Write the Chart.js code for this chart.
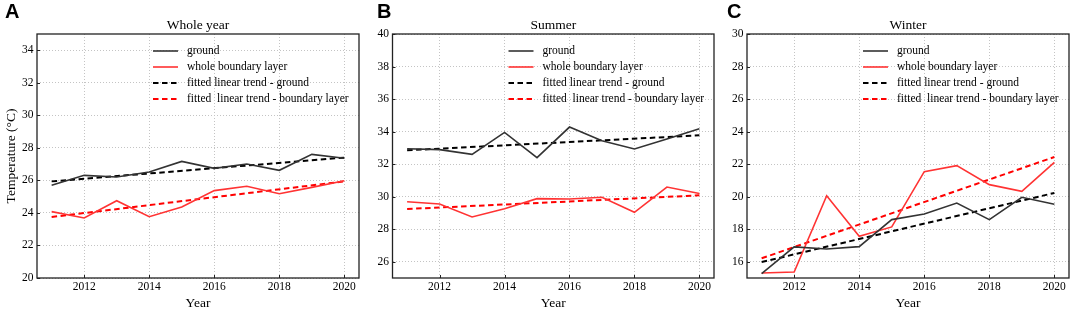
<!DOCTYPE html>
<html>
<head>
<meta charset="utf-8">
<script src="https://cdn.jsdelivr.net/npm/chart.js@4.4.0/dist/chart.umd.min.js"></script>
<style>
  body { margin: 0; background: #fff; width: 1072px; height: 309px; position: relative; overflow: hidden; }
  .panel { position: absolute; top: 0; height: 309px; }
  .tag { position: absolute; top: 0px; line-height: 20px; font: bold 20px "Liberation Sans", Arial, sans-serif; color: #000; }
</style>
</head>
<body>
<div class="panel" style="left:0;width:362px"><canvas id="chartA"></canvas></div>
<div class="panel" style="left:355px;width:362px"><canvas id="chartB"></canvas></div>
<div class="panel" style="left:712px;width:360px"><canvas id="chartC"></canvas></div>
<div class="tag" style="left:5px">A</div>
<div class="tag" style="left:377px">B</div>
<div class="tag" style="left:727px">C</div>
<script>
// data
const years = [2011, 2012, 2013, 2014, 2015, 2016, 2017, 2018, 2019, 2020];
const trendYears = [2011, 2020];
const xTicks = [2012, 2014, 2016, 2018, 2020];

// Whole year
const wholeGround = [25.70, 26.31, 26.21, 26.52, 27.17, 26.74, 27.01, 26.62, 27.60, 27.36];
const wholeBoundary = [24.08, 23.69, 24.75, 23.77, 24.36, 25.37, 25.64, 25.18, 25.57, 25.98];
const wholeTrendGround = [25.94, 27.40];
const wholeTrendBoundary = [23.75, 25.94];
const wholeTicks = [20, 22, 24, 26, 28, 30, 32, 34];

// Summer
const summerGround = [32.95, 32.89, 32.60, 33.95, 32.40, 34.28, 33.44, 32.93, 33.55, 34.18];
const summerBoundary = [29.69, 29.55, 28.75, 29.26, 29.88, 29.86, 29.96, 29.04, 30.59, 30.20];
const summerTrendGround = [32.85, 33.77];
const summerTrendBoundary = [29.24, 30.08];
const summerTicks = [26, 28, 30, 32, 34, 36, 38, 40];

// Winter
const winterGround = [15.27, 16.91, 16.78, 16.93, 18.59, 18.93, 19.61, 18.59, 19.96, 19.53];
const winterBoundary = [15.31, 15.37, 20.06, 17.56, 18.14, 21.54, 21.91, 20.74, 20.33, 22.11];
const winterTrendGround = [15.98, 20.23];
const winterTrendBoundary = [16.21, 22.44];
const winterTicks = [16, 18, 20, 22, 24, 26, 28, 30];

const labels = ['ground', 'whole boundary layer', 'fitted linear trend - ground', 'fitted  linear trend - boundary layer'];

const serif = '"Liberation Serif", "Times New Roman", serif';

function pts(xs, ys) {
  return xs.map((x, i) => ({ x: x, y: ys[i] }));
}

// legend drawn inside the plot area, plus the box frame and inward ticks
const framePlugin = {
  id: 'frame',
  afterDatasetsDraw(chart) {
    const { ctx, chartArea: a, scales } = chart;
    ctx.save();
    ctx.strokeStyle = '#222';
    ctx.lineWidth = 1.3;
    ctx.setLineDash([]);
    ctx.strokeRect(a.left, a.top, a.right - a.left, a.bottom - a.top);
    ctx.lineWidth = 1;
    scales.y.ticks.forEach(t => {
      const py = Math.round(scales.y.getPixelForValue(t.value)) + 0.5;
      ctx.beginPath(); ctx.moveTo(a.left, py); ctx.lineTo(a.left + 3, py); ctx.stroke();
    });
    scales.x.ticks.forEach(t => {
      const px = Math.round(scales.x.getPixelForValue(t.value)) + 0.5;
      ctx.beginPath(); ctx.moveTo(px, a.bottom); ctx.lineTo(px, a.bottom - 3); ctx.stroke();
    });
    // legend
    ctx.font = '11.5px ' + serif;
    ctx.textBaseline = 'middle';
    ctx.textAlign = 'left';
    chart.data.datasets.forEach((ds, i) => {
      const y = a.top + 17 + i * 16;
      ctx.strokeStyle = ds.borderColor;
      ctx.lineWidth = ds.borderWidth;
      ctx.setLineDash(ds.borderDash || []);
      ctx.beginPath(); ctx.moveTo(a.left + 116, y); ctx.lineTo(a.left + 141, y); ctx.stroke();
      ctx.setLineDash([]);
      ctx.fillStyle = '#000';
      ctx.fillText(ds.label, a.left + 150, y);
    });
    ctx.restore();
  }
};

function makeChart(id, title, ground, boundary, trendG, trendB, yTicks, yMin, yMax, yWidth, yTitle) {
  new Chart(document.getElementById(id), {
    type: 'line',
    data: {
      datasets: [
        { label: labels[0], data: pts(years, ground), borderColor: '#333333', borderWidth: 1.6 },
        { label: labels[1], data: pts(years, boundary), borderColor: '#ff3333', borderWidth: 1.6 },
        { label: labels[2], data: pts(trendYears, trendG), borderColor: '#000000', borderWidth: 2, borderDash: [5.5, 3.5] },
        { label: labels[3], data: pts(trendYears, trendB), borderColor: '#ff0000', borderWidth: 2, borderDash: [5.5, 3.5] }
      ]
    },
    options: {
      responsive: true,
      maintainAspectRatio: false,
      animation: false,
      layout: { padding: { left: 0, right: 3, top: 0, bottom: 0 } },
      elements: { point: { radius: 0 }, line: { tension: 0, fill: false } },
      plugins: { legend: { display: false }, tooltip: { enabled: false } },
      scales: {
        x: {
          type: 'linear',
          min: 2010.55,
          max: 2020.45,
          afterBuildTicks: s => { s.ticks = xTicks.map(v => ({ value: v })); },
          afterFit: s => { s.height = 31; },
          grid: { color: '#c4c4c4', lineWidth: 1, drawTicks: false },
          border: { display: false, dash: [1, 2] },
          ticks: { padding: 2, color: '#000', font: { family: serif, size: 11.5 }, maxRotation: 0, callback: v => String(v) },
          title: { display: true, text: 'Year', color: '#000', font: { family: serif, size: 13.5, lineHeight: 1 }, padding: { top: 0, bottom: -1 } }
        },
        xTop: {
          type: 'linear',
          position: 'top',
          display: true,
          min: 0, max: 1,
          afterFit: s => { s.height = 34; },
          grid: { display: false, drawTicks: false },
          border: { display: false },
          ticks: { display: false },
          title: { display: true, text: title, color: '#000', font: { family: serif, size: 13.5, lineHeight: 1 }, padding: { top: 18.5, bottom: 0 } }
        },
        y: {
          min: yMin,
          max: yMax,
          afterBuildTicks: s => { s.ticks = yTicks.map(v => ({ value: v })); },
          afterFit: s => { s.width = yWidth; },
          grid: { color: '#c4c4c4', lineWidth: 1, drawTicks: false },
          border: { display: false, dash: [1, 2] },
          ticks: { padding: 3.5, color: '#000', font: { family: serif, size: 11.5 } },
          title: { display: !!yTitle, text: yTitle || '', color: '#000', font: { family: serif, size: 13.5, lineHeight: 1.2 }, padding: { top: 3.5, bottom: 0 } }
        }
      }
    },
    plugins: [framePlugin]
  });
}

makeChart('chartA', 'Whole year', wholeGround, wholeBoundary, wholeTrendGround, wholeTrendBoundary, wholeTicks, 20, 35, 37, 'Temperature (\u00B0C)');
makeChart('chartB', 'Summer', summerGround, summerBoundary, summerTrendGround, summerTrendBoundary, summerTicks, 25, 40, 37.5, '');
makeChart('chartC', 'Winter', winterGround, winterBoundary, winterTrendGround, winterTrendBoundary, winterTicks, 15, 30, 35, '');
</script>
</body>
</html>
